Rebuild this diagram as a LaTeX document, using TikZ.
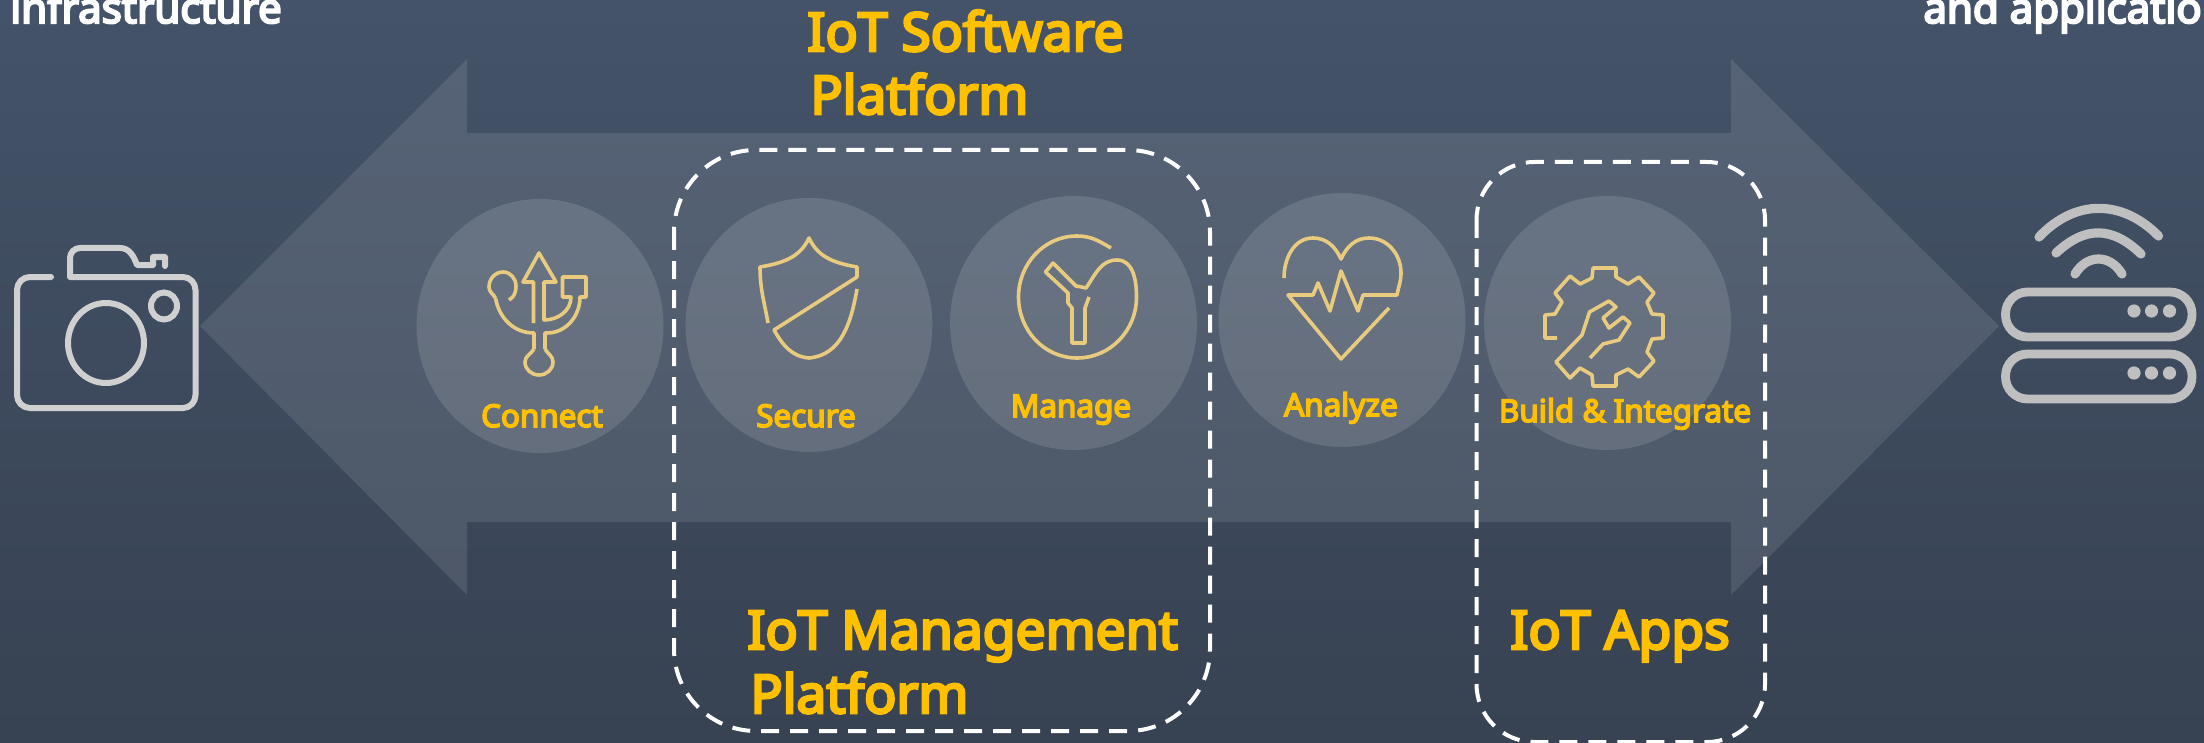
\documentclass[tikz,border=0pt]{standalone}
\usepackage{fontspec}
\setmainfont{Noto Sans}[BoldFont={Noto Sans},BoldFeatures={FakeBold=5}]
\usetikzlibrary{shapes.geometric}
\definecolor{bgtop}{HTML}{445369}
\definecolor{bgbot}{HTML}{374252}
\definecolor{gold}{HTML}{FFC000}
\definecolor{icongold}{HTML}{E8CB7F}
\definecolor{camgray}{HTML}{D0D0D0}
\definecolor{routergray}{HTML}{BFBFBF}
\tikzset{
  blob/.style={shape=ellipse,fill=white,fill opacity=0.12,minimum width=123.5pt,minimum height=127pt,inner sep=0pt},
  dashbox/.style={draw=white,line width=2pt,dash pattern=on 9pt off 5.5pt},
  icon/.style={draw=icongold,line width=1.8pt,line join=round},
  steplabel/.style={text=gold,font=\bfseries\fontsize{15.7}{18}\selectfont,anchor=base,inner sep=0pt},
  biglabel/.style={text=gold,font=\bfseries\fontsize{26.7}{30}\selectfont,anchor=base west,inner sep=0pt},
  sidelabel/.style={text=white,font=\bfseries\fontsize{21}{24}\selectfont,anchor=base west,inner sep=0pt},
}
\begin{document}
\begin{tikzpicture}[x=0.5pt,y=-0.5pt]
  \useasboundingbox (0,0) rectangle (2204,743);
  \clip (0,0) rectangle (2204,743);
  \shade[top color=bgtop,bottom color=bgbot] (0,0) rectangle (2204,743);
  \fill[white,opacity=0.1] (200,326) -- (467,59) -- (467,133) -- (1731,133) -- (1731,59) -- (1999,326) -- (1731,595) -- (1731,522) -- (467,522) -- (467,595) -- cycle;
  \node[blob] at (540,326) (connect) {};
  \node[blob] at (809,325) (secure) {};
  \node[blob] at (1073.5,323) (manage) {};
  \node[blob] at (1342,320) (analyze) {};
  \node[blob] at (1607.5,323) (build) {};
  % camera
  \draw[camgray,line width=3pt,line cap=round,line join=round] (51,277) -- (30,277) to[out=180,in=90] (17,290) -- (17,395) to[out=-90,in=180] (30,408) -- (183,408) to[out=0,in=-90] (195.5,395) -- (195.5,290) to[out=90,in=0] (183,277) -- (70,277) -- (70,258) to[out=90,in=180] (80,248) -- (120,248) to[out=0,in=110] (137,265) -- (153,265) -- (153,257) -- (165,257) -- (165,266);
  \draw[camgray,line width=3pt] (106,343) ellipse (38 and 40);
  \draw[camgray,line width=3pt] (164,306) ellipse (13 and 13.5);
  % router
  \draw[routergray,line width=4.4pt,rounded corners=11pt] (2005.5,292) rectangle (2192,337);
  \draw[routergray,line width=4.4pt,rounded corners=11pt] (2005.5,354) rectangle (2192,399);
  \foreach \dotx in {2134,2151.5,2169.5} {
    \fill[routergray] (\dotx,311) circle (3.3pt);
    \fill[routergray] (\dotx,373) circle (3.3pt);
  }
  \draw[routergray,line width=4.6pt,line cap=round] (2039,237) .. controls (2075,199) and (2122,199) .. (2158.5,236);
  \draw[routergray,line width=4.6pt,line cap=round] (2056,253) .. controls (2085,226) and (2112,226) .. (2141,254);
  \draw[routergray,line width=4.6pt,line cap=round] (2075,274) .. controls (2087,254) and (2110,254) .. (2122,274);
  % usb
  \draw[icon] (533.5,323) -- (533.5,282) -- (523,282) -- (539,253) -- (556,282) -- (544,282) -- (544,320) to[out=0,in=-90] (571,297) -- (562.5,297) -- (562.5,277) -- (586,277) -- (586,297) -- (580,297) to[out=-90,in=0] (547,333) -- (545,333) -- (545,349);
  \draw[icon] (534,349) -- (534,333) to[out=180,in=-80] (495.5,298);
  \draw[icon] (545,349) to[out=-60,in=90] (553,362) to[out=-90,in=0] (539,375) to[out=180,in=-90] (525,362) to[out=90,in=-120] (534,349);
  \draw[icon] (509,300) to[out=30,in=-90] (516,286) to[out=90,in=0] (503,272) to[out=180,in=90] (489,287) to[out=-90,in=120] (495.5,298);
  % shield
  \draw[icon] (768,323) to[out=100,in=-90] (760,267) to[out=10,in=-115] (809,238) to[out=-65,in=170] (857,267) -- (857,277) -- (774,330) to[out=-60,in=175] (809,358) to[out=5,in=-100] (857,289);
  % manage
  \draw[icon] (1111,248) to[out=150,in=0] (1077,236) to[out=180,in=90] (1018.5,297) to[out=-90,in=180] (1077,358) to[out=0,in=-90] (1136.5,297) to[out=90,in=0] (1117,260) to[out=180,in=55] (1086,288) to[out=-175,in=10] (1076,286) -- (1053,263) -- (1045.5,272) -- (1068,293) -- (1068,303) -- (1072,308) -- (1072,343) -- (1085,343) -- (1085,308) -- (1089,297);
  % heart
  \draw[icon] (1284,278) to[out=90,in=180] (1313,238) to[out=0,in=115] (1341,259) to[out=65,in=180] (1369,238) to[out=0,in=90] (1401,273) to[out=-90,in=80] (1397,295) -- (1363,295) -- (1358,311) -- (1341,271) -- (1330,311) -- (1318,283) -- (1313,295) -- (1288,295) -- (1341,359) -- (1389,308);
  % gear
  \draw[icon] (1557,338) -- (1545,338) -- (1545,315) -- (1555,314) -- (1562,302) -- (1555,293) -- (1570,276) -- (1580,284) -- (1592,278) -- (1593,268) -- (1616,268) -- (1616,277) -- (1628,284) -- (1639,277) -- (1654,293) -- (1647,302) -- (1652,314) -- (1663,315) -- (1663,338) -- (1652,339) -- (1647,352) -- (1654,361) -- (1639,377) -- (1628,369) -- (1616,375) -- (1616,386) -- (1593,386) -- (1592,375) -- (1580,368) -- (1570,378) -- (1556,362) -- (1582,335) -- (1589.5,312) -- (1609,301) -- (1616,307) -- (1603,318) -- (1609,328) -- (1623,317) -- (1630,323) -- (1619,340) -- (1603,344) -- (1590,358);
  \draw[dashbox,rounded corners=41pt] (674,150) rectangle (1210,731);
  \draw[dashbox,rounded corners=29pt] (1476.5,162) rectangle (1765,742);
  \node[steplabel] at (542,427) (connecttxt) {Connect};
  \node[steplabel] at (806,427) (securetxt) {Secure};
  \node[steplabel] at (1071,417) (managetxt) {Manage};
  \node[steplabel] at (1341,416) (analyzetxt) {Analyze};
  \node[steplabel] at (1625,422) (buildtxt) {Build \& Integrate};
  \node[biglabel] at (807,51) (softa) {IoT Software};
  \node[biglabel] at (810,114) (softb) {Platform};
  \node[biglabel] at (747,649) (mgmta) {IoT Management};
  \node[biglabel] at (750,713) (mgmtb) {Platform};
  \node[biglabel] at (1510,649) (apps) {IoT Apps};
  \node[sidelabel] at (10,23) (infra) {infrastructure};
  \node[sidelabel] at (1923,23) (appl) {and applicatio};
\end{tikzpicture}
\end{document}
